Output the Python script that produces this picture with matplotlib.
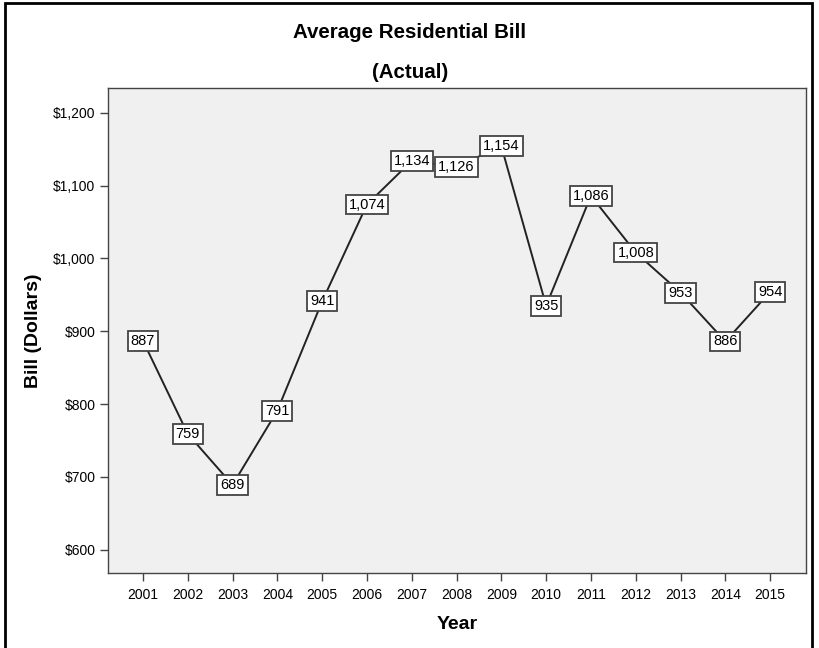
import matplotlib.pyplot as plt
from matplotlib.patches import Rectangle

years = [2001, 2002, 2003, 2004, 2005, 2006, 2007, 2008,
         2009, 2010, 2011, 2012, 2013, 2014, 2015]
bills = [887, 759, 689, 791, 941, 1074, 1134, 1126,
         1154, 935, 1086, 1008, 953, 886, 954]
y_ticks = [600, 700, 800, 900, 1000, 1100, 1200]

plt.rcParams['font.family'] = ['Liberation Sans', 'DejaVu Sans']

fig = plt.figure(figsize=(8.2, 6.48), dpi=100)
ax = fig.add_axes([108 / 820, 1 - 573 / 648, (806 - 108) / 820, (573 - 88) / 648])
ax.set_facecolor('#f0f0f0')

# outer frame around the whole chart
fig.patches.append(Rectangle((5 / 820, -0.01), (812 - 5) / 820, 1 - 3 / 648 + 0.01,
                             transform=fig.transFigure, fill=False,
                             edgecolor='black', linewidth=2))

ax.plot(years, bills, color='#222222', linewidth=1.4, zorder=2)

for x, y in zip(years, bills):
    ax.annotate(f'{y:,}', (x, y), ha='center', va='center', fontsize=10.5,
                zorder=3,
                bbox=dict(boxstyle='square,pad=0.2', facecolor='white',
                          edgecolor='#444444', linewidth=1.3))

ax.set_xlim(2000.22, 2015.8)
ax.set_ylim(568, 1234)
ax.set_xticks(years)
ax.set_yticks(y_ticks)
ax.set_yticklabels([f'${v:,}' for v in y_ticks])
ax.tick_params(axis='both', direction='out', length=6, width=1,
               color='#444444', labelsize=10, pad=3)
ax.tick_params(axis='x', pad=5)
for s in ax.spines.values():
    s.set_color('#444444')
    s.set_linewidth(1)

ax.set_xlabel('Year', fontsize=14, fontweight='bold', labelpad=10)
ax.set_ylabel('Bill (Dollars)', fontsize=14, fontweight='bold', labelpad=8)

fig.text(0.5, 1 - 33 / 648, 'Average Residential Bill', ha='center',
         va='center', fontsize=14.8, fontweight='bold')
fig.text(0.5, 1 - 72 / 648, '(Actual)', ha='center', va='center',
         fontsize=14.8, fontweight='bold')

fig.savefig('out.png', dpi=100)
